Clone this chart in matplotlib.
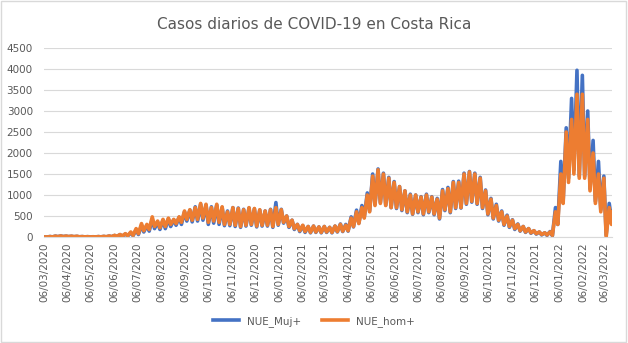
import pandas as pd
import numpy as np
import matplotlib
matplotlib.use('Agg')
import matplotlib.pyplot as plt
import matplotlib.dates as mdates

# valores semanales (pico y valle de cada semana), desde 06/03/2020
hom_hi = [2, 10, 20, 25, 22, 20, 18, 10, 8, 6, 10, 15, 25, 40, 60, 80, 120, 200, 320, 300,
          480, 380, 420, 450, 420, 480, 620, 650, 700, 800, 780, 700, 780, 720, 600, 700, 680, 650, 700, 680,
          650, 620, 650, 700, 650, 500, 400, 300, 280, 250, 260, 240, 250, 230, 260, 300, 280, 450, 600, 700,
          1000, 1450, 1600, 1500, 1400, 1300, 1200, 1100, 1000, 1000, 950, 1000, 950, 900, 1100, 1150, 1300, 1300, 1500, 1550,
          1500, 1400, 1100, 900, 750, 600, 500, 400, 300, 250, 200, 150, 120, 100, 120, 600, 1500, 2500, 2800, 3400,
          3400, 2800, 2000, 1500, 1400, 700]
hom_lo = [0, 2, 8, 10, 10, 8, 5, 3, 2, 2, 3, 5, 8, 15, 25, 30, 40, 80, 150, 180,
          250, 220, 250, 300, 320, 350, 420, 400, 420, 450, 350, 380, 350, 300, 300, 280, 250, 280, 300, 260,
          280, 280, 250, 300, 350, 250, 200, 150, 130, 110, 120, 110, 120, 110, 130, 140, 150, 250, 320, 450,
          600, 750, 800, 750, 700, 700, 650, 600, 550, 600, 550, 600, 550, 450, 650, 600, 700, 700, 800, 850,
          800, 700, 550, 450, 400, 300, 250, 200, 150, 120, 100, 80, 60, 50, 40, 300, 800, 1300, 1500, 1400,
          1400, 1100, 800, 600, 0, 300]
muj_hi = [2, 12, 22, 25, 20, 18, 15, 10, 8, 6, 10, 14, 22, 35, 55, 70, 100, 170, 280, 270,
          420, 350, 400, 430, 410, 470, 600, 640, 720, 780, 760, 720, 760, 700, 620, 700, 690, 660, 690, 670,
          640, 620, 660, 820, 660, 500, 400, 300, 270, 250, 260, 240, 250, 230, 260, 310, 300, 480, 640, 750,
          1050, 1500, 1620, 1520, 1420, 1320, 1200, 1100, 1020, 1000, 960, 1020, 960, 920, 1130, 1180, 1320, 1330, 1520, 1560,
          1520, 1420, 1120, 920, 780, 620, 520, 410, 310, 250, 200, 150, 120, 100, 130, 700, 1800, 2600, 3300, 3970,
          3850, 3000, 2300, 1800, 1450, 800]
muj_lo = [0, 3, 10, 12, 10, 8, 5, 3, 2, 2, 3, 5, 8, 12, 20, 25, 30, 60, 120, 140,
          200, 180, 200, 250, 280, 300, 380, 360, 380, 400, 300, 330, 300, 270, 270, 250, 230, 260, 280, 240,
          260, 260, 230, 280, 330, 230, 180, 130, 110, 100, 110, 100, 110, 100, 120, 130, 140, 240, 330, 470,
          620, 780, 820, 760, 700, 680, 630, 580, 540, 580, 530, 580, 530, 430, 630, 580, 680, 690, 780, 830,
          780, 680, 530, 430, 380, 280, 230, 180, 140, 110, 90, 70, 50, 40, 30, 300, 850, 1400, 1600, 1450,
          1450, 1150, 850, 650, 50, 400]
ultimo_hom = 600
ultimo_muj = 620

semanas = pd.date_range('2020-03-06', periods=len(hom_hi), freq='7D')
fechas = []
for s in semanas:
    fechas.append(s + pd.Timedelta(days=1))
    fechas.append(s + pd.Timedelta(days=4))
fechas.append(pd.Timestamp('2022-03-16'))

hom = list(np.ravel(np.column_stack([hom_hi, hom_lo]))) + [ultimo_hom]
muj = list(np.ravel(np.column_stack([muj_hi, muj_lo]))) + [ultimo_muj]

gris = '#595959'
fig = plt.figure(figsize=(6.28, 3.43), dpi=100)
ax = fig.add_axes([0.07, 0.309, 0.905, 0.551])

ax.plot(fechas, muj, color='#4472C4', lw=2.6, label='NUE_Muj+', solid_joinstyle='round')
ax.plot(fechas, hom, color='#ED7D31', lw=2.6, label='NUE_hom+', solid_joinstyle='round')

ax.set_ylim(0, 4500)
ax.set_yticks(range(0, 4501, 500))
ax.set_xlim(pd.Timestamp('2020-03-06'), pd.Timestamp('2022-03-16'))
ax.xaxis.set_major_locator(mdates.MonthLocator(bymonthday=6))
ax.xaxis.set_major_formatter(mdates.DateFormatter('%d/%m/%Y'))
plt.setp(ax.get_xticklabels(), rotation=90)
ax.tick_params(axis='both', labelsize=7.5, colors=gris, length=0)
ax.tick_params(axis='y', pad=8)
ax.tick_params(axis='x', pad=4)
ax.grid(axis='y', color='#d9d9d9', lw=0.8)
ax.set_axisbelow(True)
for lado in ['top', 'right', 'left']:
    ax.spines[lado].set_visible(False)
ax.spines['bottom'].set_color('#d9d9d9')

fig.suptitle('Casos diarios de COVID-19 en Costa Rica', y=0.95, fontsize=11, color=gris)
fig.legend(loc='lower center', bbox_to_anchor=(0.5, 0.02), ncol=2, frameon=False,
           fontsize=7.5, labelcolor=gris, handlelength=2.5)
fig.add_artist(plt.Rectangle((0.002, 0.003), 0.995, 0.994, transform=fig.transFigure,
                             fill=False, edgecolor='#d9d9d9', lw=1))

fig.savefig('out.png', dpi=100)
